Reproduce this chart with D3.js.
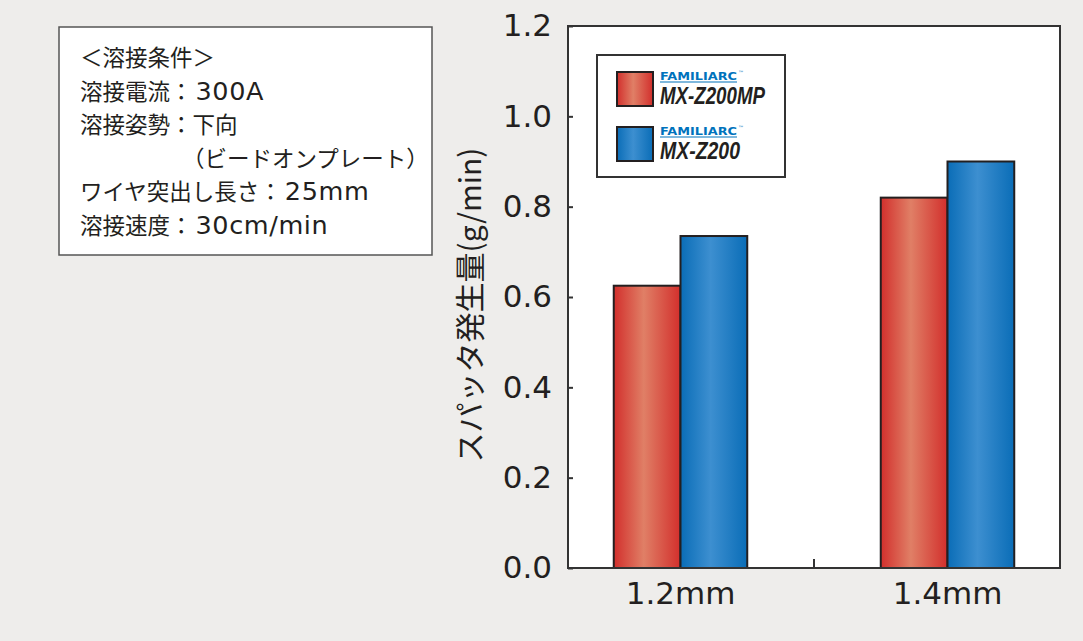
<!DOCTYPE html>
<html>
<head>
<meta charset="utf-8">
<script src="https://cdn.jsdelivr.net/npm/d3@7"></script>
<style>
  body { margin: 0; background: #eeedeb; }
  text { fill: #231f20; }
</style>
</head>
<body>
<div id="chart"></div>
<script>
// data
var categories = ["1.2mm", "1.4mm"];
var seriesNames = ["MX-Z200MP", "MX-Z200"];
var mpValues = [0.625, 0.82];
var z200Values = [0.735, 0.90];
var yTicks = [0, 0.2, 0.4, 0.6, 0.8, 1.0, 1.2];
var conditionLines = [
  "＜溶接条件＞",
  "溶接電流：300A",
  "溶接姿勢：下向",
  "（ビードオンプレート）",
  "ワイヤ突出し長さ：25mm",
  "溶接速度：30cm/min"
];

var svgWidth = 1083;
var svgHeight = 641;

var plot = { left: 568, right: 1060, top: 26, bottom: 568 };

var svg = d3.select("#chart")
  .append("svg")
  .attr("width", svgWidth)
  .attr("height", svgHeight);

svg.append("rect")
  .attr("width", svgWidth)
  .attr("height", svgHeight)
  .attr("fill", "#eeedeb");

// gradients for bars
var defs = svg.append("defs");
function addGradient(id, edge, mid) {
  var g = defs.append("linearGradient")
    .attr("id", id)
    .attr("x1", "0%").attr("x2", "100%")
    .attr("y1", "0%").attr("y2", "0%");
  g.append("stop").attr("offset", "0%").attr("stop-color", edge);
  g.append("stop").attr("offset", "45%").attr("stop-color", mid);
  g.append("stop").attr("offset", "100%").attr("stop-color", edge);
}
addGradient("gradRed", "#d22f2c", "#e07f66");
addGradient("gradBlue", "#0a6db7", "#3d8fd0");
var fills = ["url(#gradRed)", "url(#gradBlue)"];

// plot background
svg.append("rect")
  .attr("x", plot.left)
  .attr("y", plot.top)
  .attr("width", plot.right - plot.left)
  .attr("height", plot.bottom - plot.top)
  .attr("fill", "#fff");

var yScale = d3.scaleLinear()
  .domain([0, 1.2])
  .range([plot.bottom, plot.top]);

var xScale = d3.scaleBand()
  .domain(categories)
  .range([547, 1081])
  .paddingInner(0.5)
  .paddingOuter(0.25);

var xSeries = d3.scaleBand()
  .domain(seriesNames)
  .range([0, xScale.bandwidth()]);

var tableData = categories.map(function(c, i) {
  return { cat: c, values: [mpValues[i], z200Values[i]] };
});

// bars
var groups = svg.selectAll(".grp")
  .data(tableData)
  .enter()
  .append("g")
  .attr("transform", d => `translate(${xScale(d.cat)},0)`);

groups.selectAll("rect")
  .data(d => d.values.map((v, j) => ({ name: seriesNames[j], v: v, j: j })))
  .enter()
  .append("rect")
  .attr("x", d => xSeries(d.name))
  .attr("y", d => yScale(d.v))
  .attr("width", xSeries.bandwidth())
  .attr("height", d => yScale(0) - yScale(d.v))
  .attr("fill", d => fills[d.j])
  .attr("stroke", "#231f20")
  .attr("stroke-width", 2);

// y axis with inward ticks
var leftAxis = d3.axisLeft(yScale)
  .tickValues(yTicks)
  .tickFormat(d3.format(".1f"))
  .tickSizeInner(-5)
  .tickSizeOuter(0)
  .tickPadding(16);

var yAxisG = svg.append("g")
  .attr("transform", `translate(${plot.left},0)`)
  .call(leftAxis);
yAxisG.select(".domain").remove();
yAxisG.selectAll("line").attr("stroke", "#333").attr("stroke-width", 2);
yAxisG.selectAll("text")
  .attr("font-family", "DejaVu Sans")
  .attr("font-size", 31)
  .attr("fill", "#231f20");

// x axis labels
var bottomAxis = d3.axisBottom(xScale).tickSize(0).tickPadding(14);
var xAxisG = svg.append("g")
  .attr("transform", `translate(0,${plot.bottom})`)
  .call(bottomAxis);
xAxisG.select(".domain").remove();
xAxisG.selectAll("text")
  .attr("font-family", "DejaVu Sans")
  .attr("font-size", 31)
  .attr("fill", "#231f20");

// separator tick between groups
var midX = (xScale(categories[0]) + xScale.bandwidth() + xScale(categories[1])) / 2;
svg.append("line")
  .attr("x1", midX).attr("x2", midX)
  .attr("y1", plot.bottom).attr("y2", plot.bottom - 9)
  .attr("stroke", "#333")
  .attr("stroke-width", 2);

// frame
svg.append("rect")
  .attr("x", plot.left)
  .attr("y", plot.top)
  .attr("width", plot.right - plot.left)
  .attr("height", plot.bottom - plot.top)
  .attr("fill", "none")
  .attr("stroke", "#333")
  .attr("stroke-width", 2);

// y title
svg.append("text")
  .attr("transform", `translate(481, 305) rotate(-90)`)
  .attr("text-anchor", "middle")
  .attr("font-family", "Noto Sans CJK JP")
  .attr("font-size", 30)
  .text("スパッタ発生量(g/min)");

// legend
var legend = svg.append("g");
legend.append("rect")
  .attr("x", 597).attr("y", 55)
  .attr("width", 188).attr("height", 122)
  .attr("fill", "#fff")
  .attr("stroke", "#333")
  .attr("stroke-width", 2);

var legendItems = legend.selectAll(".item")
  .data(seriesNames)
  .enter()
  .append("g")
  .attr("transform", (d, i) => `translate(617, ${72 + i * 55})`);

legendItems.append("rect")
  .attr("width", 36).attr("height", 34)
  .attr("fill", (d, i) => fills[i])
  .attr("stroke", "#231f20")
  .attr("stroke-width", 2);

legendItems.append("text")
  .attr("x", 43).attr("y", 8)
  .attr("font-family", "DejaVu Sans")
  .attr("font-weight", "bold")
  .attr("font-size", 10)
  .attr("textLength", 77)
  .attr("lengthAdjust", "spacingAndGlyphs")
  .style("fill", "#0072bc")
  .text("FAMILIARC");

legendItems.append("line")
  .attr("x1", 43).attr("x2", 120)
  .attr("y1", 10).attr("y2", 10)
  .attr("stroke", "#0072bc")
  .attr("stroke-width", 1.2);

legendItems.append("text")
  .attr("x", 121).attr("y", 3)
  .attr("font-family", "DejaVu Sans")
  .attr("font-size", 6)
  .style("fill", "#0072bc")
  .text("™");

legendItems.append("text")
  .attr("x", 43).attr("y", 32)
  .attr("font-family", "Liberation Sans, Arial, sans-serif")
  .attr("font-weight", "bold")
  .attr("font-style", "italic")
  .attr("font-size", 23)
  .attr("textLength", (d, i) => i === 0 ? 105 : 80)
  .attr("lengthAdjust", "spacingAndGlyphs")
  .text(d => d);

// conditions box
var info = svg.append("g");
info.append("rect")
  .attr("x", 59).attr("y", 27)
  .attr("width", 373).attr("height", 228)
  .attr("fill", "#fff")
  .attr("stroke", "#555")
  .attr("stroke-width", 1.5);

// split each line into latin and japanese runs, latin set a bit larger
var lines = info.selectAll(".cond")
  .data(conditionLines)
  .enter()
  .append("text")
  .attr("x", (d, i) => i === 3 ? 182 : 80)
  .attr("y", (d, i) => 66 + i * 33.6)
  .attr("font-size", 22.5);

lines.selectAll("tspan")
  .data(d => d.match(/[\x20-\x7e]+|[^\x20-\x7e]+/g))
  .enter()
  .append("tspan")
  .attr("font-family", d => /^[\x20-\x7e]+$/.test(d) ? "DejaVu Sans" : "Noto Sans CJK JP")
  .attr("font-size", d => /^[\x20-\x7e]+$/.test(d) ? 25.5 : 22.5)
  .attr("letter-spacing", d => /^[\x20-\x7e]+$/.test(d) ? 0.6 : 0)
  .attr("dx", d => /^[\x20-\x7e]+$/.test(d) ? 3 : 0)
  .text(d => d);
</script>
</body>
</html>
